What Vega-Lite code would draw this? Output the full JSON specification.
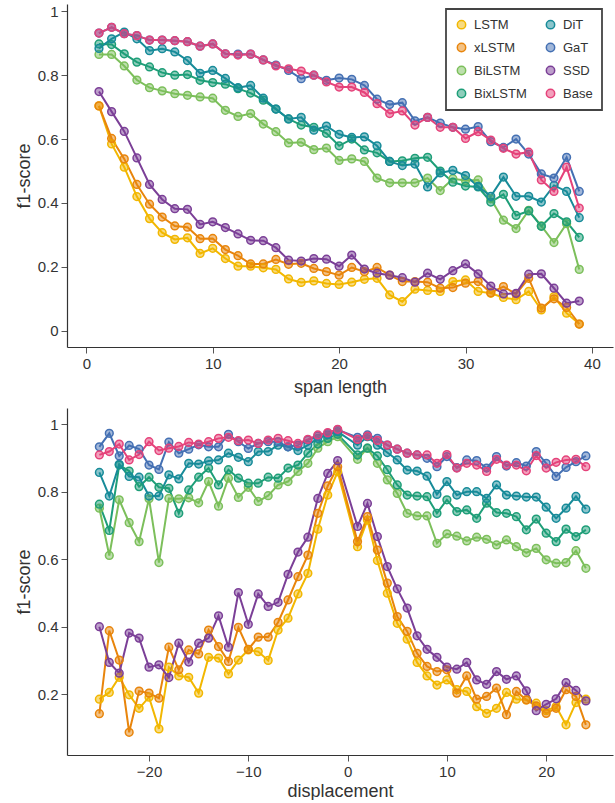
{
"$schema": "https://vega.github.io/schema/vega-lite/v6.json",
"padding": {"left": 15, "top": 4, "right": 2, "bottom": 0},
"config": {
 "font": "Liberation Sans",
 "view": {"stroke": null},
 "axis": {"grid": false, "domainColor": "#333", "domainWidth": 1.2, "tickColor": "#555", "tickWidth": 1, "tickSize": 6, "labelFontSize": 15, "labelColor": "#333", "labelPadding": 3, "titleFontSize": 18, "titleFontWeight": "normal", "titleColor": "#333", "titlePadding": 4},
 "concat": {"spacing": 12}
},
"datasets": {
"span": [
{"m":"LSTM","x":1,"y":0.704},{"m":"LSTM","x":2,"y":0.585},{"m":"LSTM","x":3,"y":0.512},{"m":"LSTM","x":4,"y":0.42},{"m":"LSTM","x":5,"y":0.351},{"m":"LSTM","x":6,"y":0.307},{"m":"LSTM","x":7,"y":0.286},{"m":"LSTM","x":8,"y":0.291},{"m":"LSTM","x":9,"y":0.242},{"m":"LSTM","x":10,"y":0.258},{"m":"LSTM","x":11,"y":0.226},{"m":"LSTM","x":12,"y":0.202},{"m":"LSTM","x":13,"y":0.202},{"m":"LSTM","x":14,"y":0.197},{"m":"LSTM","x":15,"y":0.192},{"m":"LSTM","x":16,"y":0.162},{"m":"LSTM","x":17,"y":0.151},{"m":"LSTM","x":18,"y":0.156},{"m":"LSTM","x":19,"y":0.148},{"m":"LSTM","x":20,"y":0.145},{"m":"LSTM","x":21,"y":0.152},{"m":"LSTM","x":22,"y":0.161},{"m":"LSTM","x":23,"y":0.164},{"m":"LSTM","x":24,"y":0.112},{"m":"LSTM","x":25,"y":0.091},{"m":"LSTM","x":26,"y":0.13},{"m":"LSTM","x":27,"y":0.126},{"m":"LSTM","x":28,"y":0.123},{"m":"LSTM","x":29,"y":0.154},{"m":"LSTM","x":30,"y":0.159},{"m":"LSTM","x":31,"y":0.123},{"m":"LSTM","x":32,"y":0.117},{"m":"LSTM","x":33,"y":0.104},{"m":"LSTM","x":34,"y":0.097},{"m":"LSTM","x":35,"y":0.123},{"m":"LSTM","x":36,"y":0.065},{"m":"LSTM","x":37,"y":0.107},{"m":"LSTM","x":38,"y":0.055},{"m":"LSTM","x":39,"y":0.021},
{"m":"xLSTM","x":1,"y":0.704},{"m":"xLSTM","x":2,"y":0.602},{"m":"xLSTM","x":3,"y":0.538},{"m":"xLSTM","x":4,"y":0.458},{"m":"xLSTM","x":5,"y":0.396},{"m":"xLSTM","x":6,"y":0.356},{"m":"xLSTM","x":7,"y":0.328},{"m":"xLSTM","x":8,"y":0.324},{"m":"xLSTM","x":9,"y":0.288},{"m":"xLSTM","x":10,"y":0.289},{"m":"xLSTM","x":11,"y":0.254},{"m":"xLSTM","x":12,"y":0.235},{"m":"xLSTM","x":13,"y":0.209},{"m":"xLSTM","x":14,"y":0.209},{"m":"xLSTM","x":15,"y":0.223},{"m":"xLSTM","x":16,"y":0.208},{"m":"xLSTM","x":17,"y":0.211},{"m":"xLSTM","x":18,"y":0.195},{"m":"xLSTM","x":19,"y":0.185},{"m":"xLSTM","x":20,"y":0.174},{"m":"xLSTM","x":21,"y":0.198},{"m":"xLSTM","x":22,"y":0.185},{"m":"xLSTM","x":23,"y":0.198},{"m":"xLSTM","x":24,"y":0.174},{"m":"xLSTM","x":25,"y":0.154},{"m":"xLSTM","x":26,"y":0.154},{"m":"xLSTM","x":27,"y":0.152},{"m":"xLSTM","x":28,"y":0.133},{"m":"xLSTM","x":29,"y":0.135},{"m":"xLSTM","x":30,"y":0.149},{"m":"xLSTM","x":31,"y":0.154},{"m":"xLSTM","x":32,"y":0.119},{"m":"xLSTM","x":33,"y":0.138},{"m":"xLSTM","x":34,"y":0.115},{"m":"xLSTM","x":35,"y":0.164},{"m":"xLSTM","x":36,"y":0.071},{"m":"xLSTM","x":37,"y":0.1},{"m":"xLSTM","x":38,"y":0.073},{"m":"xLSTM","x":39,"y":0.021},
{"m":"BiLSTM","x":1,"y":0.865},{"m":"BiLSTM","x":2,"y":0.865},{"m":"BiLSTM","x":3,"y":0.829},{"m":"BiLSTM","x":4,"y":0.785},{"m":"BiLSTM","x":5,"y":0.761},{"m":"BiLSTM","x":6,"y":0.751},{"m":"BiLSTM","x":7,"y":0.742},{"m":"BiLSTM","x":8,"y":0.737},{"m":"BiLSTM","x":9,"y":0.732},{"m":"BiLSTM","x":10,"y":0.728},{"m":"BiLSTM","x":11,"y":0.69},{"m":"BiLSTM","x":12,"y":0.671},{"m":"BiLSTM","x":13,"y":0.68},{"m":"BiLSTM","x":14,"y":0.647},{"m":"BiLSTM","x":15,"y":0.623},{"m":"BiLSTM","x":16,"y":0.588},{"m":"BiLSTM","x":17,"y":0.59},{"m":"BiLSTM","x":18,"y":0.567},{"m":"BiLSTM","x":19,"y":0.572},{"m":"BiLSTM","x":20,"y":0.533},{"m":"BiLSTM","x":21,"y":0.538},{"m":"BiLSTM","x":22,"y":0.53},{"m":"BiLSTM","x":23,"y":0.478},{"m":"BiLSTM","x":24,"y":0.463},{"m":"BiLSTM","x":25,"y":0.463},{"m":"BiLSTM","x":26,"y":0.463},{"m":"BiLSTM","x":27,"y":0.478},{"m":"BiLSTM","x":28,"y":0.439},{"m":"BiLSTM","x":29,"y":0.476},{"m":"BiLSTM","x":30,"y":0.47},{"m":"BiLSTM","x":31,"y":0.472},{"m":"BiLSTM","x":32,"y":0.413},{"m":"BiLSTM","x":33,"y":0.346},{"m":"BiLSTM","x":34,"y":0.32},{"m":"BiLSTM","x":35,"y":0.377},{"m":"BiLSTM","x":36,"y":0.328},{"m":"BiLSTM","x":37,"y":0.276},{"m":"BiLSTM","x":38,"y":0.335},{"m":"BiLSTM","x":39,"y":0.192},
{"m":"BixLSTM","x":1,"y":0.898},{"m":"BixLSTM","x":2,"y":0.896},{"m":"BixLSTM","x":3,"y":0.867},{"m":"BixLSTM","x":4,"y":0.841},{"m":"BixLSTM","x":5,"y":0.826},{"m":"BixLSTM","x":6,"y":0.808},{"m":"BixLSTM","x":7,"y":0.8},{"m":"BixLSTM","x":8,"y":0.802},{"m":"BixLSTM","x":9,"y":0.784},{"m":"BixLSTM","x":10,"y":0.777},{"m":"BixLSTM","x":11,"y":0.772},{"m":"BixLSTM","x":12,"y":0.758},{"m":"BixLSTM","x":13,"y":0.744},{"m":"BixLSTM","x":14,"y":0.722},{"m":"BixLSTM","x":15,"y":0.694},{"m":"BixLSTM","x":16,"y":0.663},{"m":"BixLSTM","x":17,"y":0.644},{"m":"BixLSTM","x":18,"y":0.637},{"m":"BixLSTM","x":19,"y":0.618},{"m":"BixLSTM","x":20,"y":0.579},{"m":"BixLSTM","x":21,"y":0.6},{"m":"BixLSTM","x":22,"y":0.566},{"m":"BixLSTM","x":23,"y":0.557},{"m":"BixLSTM","x":24,"y":0.53},{"m":"BixLSTM","x":25,"y":0.532},{"m":"BixLSTM","x":26,"y":0.54},{"m":"BixLSTM","x":27,"y":0.543},{"m":"BixLSTM","x":28,"y":0.5},{"m":"BixLSTM","x":29,"y":0.465},{"m":"BixLSTM","x":30,"y":0.453},{"m":"BixLSTM","x":31,"y":0.45},{"m":"BixLSTM","x":32,"y":0.403},{"m":"BixLSTM","x":33,"y":0.427},{"m":"BixLSTM","x":34,"y":0.361},{"m":"BixLSTM","x":35,"y":0.375},{"m":"BixLSTM","x":36,"y":0.327},{"m":"BixLSTM","x":37,"y":0.367},{"m":"BixLSTM","x":38,"y":0.341},{"m":"BixLSTM","x":39,"y":0.292},
{"m":"DiT","x":1,"y":0.884},{"m":"DiT","x":2,"y":0.914},{"m":"DiT","x":3,"y":0.935},{"m":"DiT","x":4,"y":0.914},{"m":"DiT","x":5,"y":0.877},{"m":"DiT","x":6,"y":0.883},{"m":"DiT","x":7,"y":0.873},{"m":"DiT","x":8,"y":0.846},{"m":"DiT","x":9,"y":0.806},{"m":"DiT","x":10,"y":0.815},{"m":"DiT","x":11,"y":0.79},{"m":"DiT","x":12,"y":0.761},{"m":"DiT","x":13,"y":0.768},{"m":"DiT","x":14,"y":0.728},{"m":"DiT","x":15,"y":0.694},{"m":"DiT","x":16,"y":0.663},{"m":"DiT","x":17,"y":0.668},{"m":"DiT","x":18,"y":0.628},{"m":"DiT","x":19,"y":0.641},{"m":"DiT","x":20,"y":0.615},{"m":"DiT","x":21,"y":0.605},{"m":"DiT","x":22,"y":0.607},{"m":"DiT","x":23,"y":0.579},{"m":"DiT","x":24,"y":0.53},{"m":"DiT","x":25,"y":0.517},{"m":"DiT","x":26,"y":0.522},{"m":"DiT","x":27,"y":0.45},{"m":"DiT","x":28,"y":0.494},{"m":"DiT","x":29,"y":0.502},{"m":"DiT","x":30,"y":0.486},{"m":"DiT","x":31,"y":0.452},{"m":"DiT","x":32,"y":0.421},{"m":"DiT","x":33,"y":0.481},{"m":"DiT","x":34,"y":0.421},{"m":"DiT","x":35,"y":0.421},{"m":"DiT","x":36,"y":0.403},{"m":"DiT","x":37,"y":0.455},{"m":"DiT","x":38,"y":0.436},{"m":"DiT","x":39,"y":0.354},
{"m":"GaT","x":1,"y":0.932},{"m":"GaT","x":2,"y":0.95},{"m":"GaT","x":3,"y":0.93},{"m":"GaT","x":4,"y":0.924},{"m":"GaT","x":5,"y":0.91},{"m":"GaT","x":6,"y":0.91},{"m":"GaT","x":7,"y":0.908},{"m":"GaT","x":8,"y":0.905},{"m":"GaT","x":9,"y":0.891},{"m":"GaT","x":10,"y":0.898},{"m":"GaT","x":11,"y":0.867},{"m":"GaT","x":12,"y":0.866},{"m":"GaT","x":13,"y":0.866},{"m":"GaT","x":14,"y":0.848},{"m":"GaT","x":15,"y":0.832},{"m":"GaT","x":16,"y":0.815},{"m":"GaT","x":17,"y":0.789},{"m":"GaT","x":18,"y":0.8},{"m":"GaT","x":19,"y":0.784},{"m":"GaT","x":20,"y":0.791},{"m":"GaT","x":21,"y":0.787},{"m":"GaT","x":22,"y":0.768},{"m":"GaT","x":23,"y":0.725},{"m":"GaT","x":24,"y":0.708},{"m":"GaT","x":25,"y":0.714},{"m":"GaT","x":26,"y":0.657},{"m":"GaT","x":27,"y":0.668},{"m":"GaT","x":28,"y":0.65},{"m":"GaT","x":29,"y":0.637},{"m":"GaT","x":30,"y":0.631},{"m":"GaT","x":31,"y":0.639},{"m":"GaT","x":32,"y":0.592},{"m":"GaT","x":33,"y":0.574},{"m":"GaT","x":34,"y":0.6},{"m":"GaT","x":35,"y":0.553},{"m":"GaT","x":36,"y":0.491},{"m":"GaT","x":37,"y":0.478},{"m":"GaT","x":38,"y":0.543},{"m":"GaT","x":39,"y":0.436},
{"m":"SSD","x":1,"y":0.749},{"m":"SSD","x":2,"y":0.686},{"m":"SSD","x":3,"y":0.624},{"m":"SSD","x":4,"y":0.541},{"m":"SSD","x":5,"y":0.458},{"m":"SSD","x":6,"y":0.411},{"m":"SSD","x":7,"y":0.382},{"m":"SSD","x":8,"y":0.38},{"m":"SSD","x":9,"y":0.333},{"m":"SSD","x":10,"y":0.341},{"m":"SSD","x":11,"y":0.323},{"m":"SSD","x":12,"y":0.303},{"m":"SSD","x":13,"y":0.283},{"m":"SSD","x":14,"y":0.282},{"m":"SSD","x":15,"y":0.26},{"m":"SSD","x":16,"y":0.221},{"m":"SSD","x":17,"y":0.218},{"m":"SSD","x":18,"y":0.226},{"m":"SSD","x":19,"y":0.224},{"m":"SSD","x":20,"y":0.202},{"m":"SSD","x":21,"y":0.237},{"m":"SSD","x":22,"y":0.193},{"m":"SSD","x":23,"y":0.18},{"m":"SSD","x":24,"y":0.174},{"m":"SSD","x":25,"y":0.166},{"m":"SSD","x":26,"y":0.152},{"m":"SSD","x":27,"y":0.18},{"m":"SSD","x":28,"y":0.161},{"m":"SSD","x":29,"y":0.188},{"m":"SSD","x":30,"y":0.209},{"m":"SSD","x":31,"y":0.178},{"m":"SSD","x":32,"y":0.14},{"m":"SSD","x":33,"y":0.115},{"m":"SSD","x":34,"y":0.117},{"m":"SSD","x":35,"y":0.177},{"m":"SSD","x":36,"y":0.178},{"m":"SSD","x":37,"y":0.133},{"m":"SSD","x":38,"y":0.086},{"m":"SSD","x":39,"y":0.093},
{"m":"Base","x":1,"y":0.932},{"m":"Base","x":2,"y":0.95},{"m":"Base","x":3,"y":0.93},{"m":"Base","x":4,"y":0.924},{"m":"Base","x":5,"y":0.91},{"m":"Base","x":6,"y":0.91},{"m":"Base","x":7,"y":0.908},{"m":"Base","x":8,"y":0.905},{"m":"Base","x":9,"y":0.891},{"m":"Base","x":10,"y":0.898},{"m":"Base","x":11,"y":0.867},{"m":"Base","x":12,"y":0.863},{"m":"Base","x":13,"y":0.866},{"m":"Base","x":14,"y":0.848},{"m":"Base","x":15,"y":0.829},{"m":"Base","x":16,"y":0.82},{"m":"Base","x":17,"y":0.813},{"m":"Base","x":18,"y":0.8},{"m":"Base","x":19,"y":0.779},{"m":"Base","x":20,"y":0.763},{"m":"Base","x":21,"y":0.763},{"m":"Base","x":22,"y":0.746},{"m":"Base","x":23,"y":0.711},{"m":"Base","x":24,"y":0.68},{"m":"Base","x":25,"y":0.688},{"m":"Base","x":26,"y":0.644},{"m":"Base","x":27,"y":0.668},{"m":"Base","x":28,"y":0.637},{"m":"Base","x":29,"y":0.637},{"m":"Base","x":30,"y":0.602},{"m":"Base","x":31,"y":0.623},{"m":"Base","x":32,"y":0.597},{"m":"Base","x":33,"y":0.571},{"m":"Base","x":34,"y":0.553},{"m":"Base","x":35,"y":0.559},{"m":"Base","x":36,"y":0.472},{"m":"Base","x":37,"y":0.436},{"m":"Base","x":38,"y":0.512},{"m":"Base","x":39,"y":0.384}
],
"disp": [
{"m":"LSTM","x":-25,"y":0.185},{"m":"LSTM","x":-24,"y":0.205},{"m":"LSTM","x":-23,"y":0.25},{"m":"LSTM","x":-22,"y":0.198},{"m":"LSTM","x":-21,"y":0.158},{"m":"LSTM","x":-20,"y":0.191},{"m":"LSTM","x":-19,"y":0.097},{"m":"LSTM","x":-18,"y":0.28},{"m":"LSTM","x":-17,"y":0.254},{"m":"LSTM","x":-16,"y":0.25},{"m":"LSTM","x":-15,"y":0.203},{"m":"LSTM","x":-14,"y":0.309},{"m":"LSTM","x":-13,"y":0.307},{"m":"LSTM","x":-12,"y":0.26},{"m":"LSTM","x":-11,"y":0.301},{"m":"LSTM","x":-10,"y":0.331},{"m":"LSTM","x":-9,"y":0.326},{"m":"LSTM","x":-8,"y":0.3},{"m":"LSTM","x":-7,"y":0.39},{"m":"LSTM","x":-6,"y":0.425},{"m":"LSTM","x":-5,"y":0.497},{"m":"LSTM","x":-4,"y":0.558},{"m":"LSTM","x":-3,"y":0.689},{"m":"LSTM","x":-2,"y":0.79},{"m":"LSTM","x":-1,"y":0.859},{"m":"LSTM","x":1,"y":0.637},{"m":"LSTM","x":2,"y":0.716},{"m":"LSTM","x":3,"y":0.596},{"m":"LSTM","x":4,"y":0.499},{"m":"LSTM","x":5,"y":0.41},{"m":"LSTM","x":6,"y":0.363},{"m":"LSTM","x":7,"y":0.294},{"m":"LSTM","x":8,"y":0.254},{"m":"LSTM","x":9,"y":0.227},{"m":"LSTM","x":10,"y":0.242},{"m":"LSTM","x":11,"y":0.213},{"m":"LSTM","x":12,"y":0.208},{"m":"LSTM","x":13,"y":0.163},{"m":"LSTM","x":14,"y":0.143},{"m":"LSTM","x":15,"y":0.158},{"m":"LSTM","x":16,"y":0.205},{"m":"LSTM","x":17,"y":0.185},{"m":"LSTM","x":18,"y":0.183},{"m":"LSTM","x":19,"y":0.173},{"m":"LSTM","x":20,"y":0.151},{"m":"LSTM","x":21,"y":0.163},{"m":"LSTM","x":22,"y":0.109},{"m":"LSTM","x":23,"y":0.175},{"m":"LSTM","x":24,"y":0.185},
{"m":"xLSTM","x":-25,"y":0.142},{"m":"xLSTM","x":-24,"y":0.388},{"m":"xLSTM","x":-23,"y":0.301},{"m":"xLSTM","x":-22,"y":0.087},{"m":"xLSTM","x":-21,"y":0.209},{"m":"xLSTM","x":-20,"y":0.203},{"m":"xLSTM","x":-19,"y":0.188},{"m":"xLSTM","x":-18,"y":0.339},{"m":"xLSTM","x":-17,"y":0.272},{"m":"xLSTM","x":-16,"y":0.331},{"m":"xLSTM","x":-15,"y":0.319},{"m":"xLSTM","x":-14,"y":0.39},{"m":"xLSTM","x":-13,"y":0.341},{"m":"xLSTM","x":-12,"y":0.297},{"m":"xLSTM","x":-11,"y":0.398},{"m":"xLSTM","x":-10,"y":0.333},{"m":"xLSTM","x":-9,"y":0.369},{"m":"xLSTM","x":-8,"y":0.369},{"m":"xLSTM","x":-7,"y":0.413},{"m":"xLSTM","x":-6,"y":0.479},{"m":"xLSTM","x":-5,"y":0.548},{"m":"xLSTM","x":-4,"y":0.612},{"m":"xLSTM","x":-3,"y":0.736},{"m":"xLSTM","x":-2,"y":0.817},{"m":"xLSTM","x":-1,"y":0.874},{"m":"xLSTM","x":1,"y":0.652},{"m":"xLSTM","x":2,"y":0.726},{"m":"xLSTM","x":3,"y":0.627},{"m":"xLSTM","x":4,"y":0.529},{"m":"xLSTM","x":5,"y":0.43},{"m":"xLSTM","x":6,"y":0.386},{"m":"xLSTM","x":7,"y":0.321},{"m":"xLSTM","x":8,"y":0.282},{"m":"xLSTM","x":9,"y":0.267},{"m":"xLSTM","x":10,"y":0.272},{"m":"xLSTM","x":11,"y":0.203},{"m":"xLSTM","x":12,"y":0.254},{"m":"xLSTM","x":13,"y":0.185},{"m":"xLSTM","x":14,"y":0.193},{"m":"xLSTM","x":15,"y":0.218},{"m":"xLSTM","x":16,"y":0.139},{"m":"xLSTM","x":17,"y":0.208},{"m":"xLSTM","x":18,"y":0.183},{"m":"xLSTM","x":19,"y":0.165},{"m":"xLSTM","x":20,"y":0.143},{"m":"xLSTM","x":21,"y":0.158},{"m":"xLSTM","x":22,"y":0.213},{"m":"xLSTM","x":23,"y":0.193},{"m":"xLSTM","x":24,"y":0.109},
{"m":"BiLSTM","x":-25,"y":0.751},{"m":"BiLSTM","x":-24,"y":0.611},{"m":"BiLSTM","x":-23,"y":0.776},{"m":"BiLSTM","x":-22,"y":0.708},{"m":"BiLSTM","x":-21,"y":0.652},{"m":"BiLSTM","x":-20,"y":0.779},{"m":"BiLSTM","x":-19,"y":0.59},{"m":"BiLSTM","x":-18,"y":0.78},{"m":"BiLSTM","x":-17,"y":0.779},{"m":"BiLSTM","x":-16,"y":0.782},{"m":"BiLSTM","x":-15,"y":0.767},{"m":"BiLSTM","x":-14,"y":0.83},{"m":"BiLSTM","x":-13,"y":0.757},{"m":"BiLSTM","x":-12,"y":0.84},{"m":"BiLSTM","x":-11,"y":0.783},{"m":"BiLSTM","x":-10,"y":0.813},{"m":"BiLSTM","x":-9,"y":0.771},{"m":"BiLSTM","x":-8,"y":0.788},{"m":"BiLSTM","x":-7,"y":0.82},{"m":"BiLSTM","x":-6,"y":0.83},{"m":"BiLSTM","x":-5,"y":0.86},{"m":"BiLSTM","x":-4,"y":0.884},{"m":"BiLSTM","x":-3,"y":0.929},{"m":"BiLSTM","x":-2,"y":0.948},{"m":"BiLSTM","x":-1,"y":0.963},{"m":"BiLSTM","x":1,"y":0.896},{"m":"BiLSTM","x":2,"y":0.929},{"m":"BiLSTM","x":3,"y":0.884},{"m":"BiLSTM","x":4,"y":0.835},{"m":"BiLSTM","x":5,"y":0.795},{"m":"BiLSTM","x":6,"y":0.736},{"m":"BiLSTM","x":7,"y":0.728},{"m":"BiLSTM","x":8,"y":0.728},{"m":"BiLSTM","x":9,"y":0.647},{"m":"BiLSTM","x":10,"y":0.675},{"m":"BiLSTM","x":11,"y":0.668},{"m":"BiLSTM","x":12,"y":0.654},{"m":"BiLSTM","x":13,"y":0.665},{"m":"BiLSTM","x":14,"y":0.659},{"m":"BiLSTM","x":15,"y":0.642},{"m":"BiLSTM","x":16,"y":0.657},{"m":"BiLSTM","x":17,"y":0.637},{"m":"BiLSTM","x":18,"y":0.619},{"m":"BiLSTM","x":19,"y":0.632},{"m":"BiLSTM","x":20,"y":0.598},{"m":"BiLSTM","x":21,"y":0.588},{"m":"BiLSTM","x":22,"y":0.59},{"m":"BiLSTM","x":23,"y":0.625},{"m":"BiLSTM","x":24,"y":0.573},
{"m":"BixLSTM","x":-25,"y":0.763},{"m":"BixLSTM","x":-24,"y":0.685},{"m":"BixLSTM","x":-23,"y":0.879},{"m":"BixLSTM","x":-22,"y":0.861},{"m":"BixLSTM","x":-21,"y":0.815},{"m":"BixLSTM","x":-20,"y":0.843},{"m":"BixLSTM","x":-19,"y":0.813},{"m":"BixLSTM","x":-18,"y":0.81},{"m":"BixLSTM","x":-17,"y":0.736},{"m":"BixLSTM","x":-16,"y":0.805},{"m":"BixLSTM","x":-15,"y":0.843},{"m":"BixLSTM","x":-14,"y":0.87},{"m":"BixLSTM","x":-13,"y":0.82},{"m":"BixLSTM","x":-12,"y":0.865},{"m":"BixLSTM","x":-11,"y":0.84},{"m":"BixLSTM","x":-10,"y":0.825},{"m":"BixLSTM","x":-9,"y":0.825},{"m":"BixLSTM","x":-8,"y":0.843},{"m":"BixLSTM","x":-7,"y":0.84},{"m":"BixLSTM","x":-6,"y":0.87},{"m":"BixLSTM","x":-5,"y":0.879},{"m":"BixLSTM","x":-4,"y":0.914},{"m":"BixLSTM","x":-3,"y":0.941},{"m":"BixLSTM","x":-2,"y":0.958},{"m":"BixLSTM","x":-1,"y":0.97},{"m":"BixLSTM","x":1,"y":0.909},{"m":"BixLSTM","x":2,"y":0.929},{"m":"BixLSTM","x":3,"y":0.906},{"m":"BixLSTM","x":4,"y":0.865},{"m":"BixLSTM","x":5,"y":0.82},{"m":"BixLSTM","x":6,"y":0.79},{"m":"BixLSTM","x":7,"y":0.787},{"m":"BixLSTM","x":8,"y":0.785},{"m":"BixLSTM","x":9,"y":0.736},{"m":"BixLSTM","x":10,"y":0.776},{"m":"BixLSTM","x":11,"y":0.741},{"m":"BixLSTM","x":12,"y":0.746},{"m":"BixLSTM","x":13,"y":0.721},{"m":"BixLSTM","x":14,"y":0.766},{"m":"BixLSTM","x":15,"y":0.738},{"m":"BixLSTM","x":16,"y":0.736},{"m":"BixLSTM","x":17,"y":0.726},{"m":"BixLSTM","x":18,"y":0.687},{"m":"BixLSTM","x":19,"y":0.719},{"m":"BixLSTM","x":20,"y":0.677},{"m":"BixLSTM","x":21,"y":0.652},{"m":"BixLSTM","x":22,"y":0.689},{"m":"BixLSTM","x":23,"y":0.667},{"m":"BixLSTM","x":24,"y":0.687},
{"m":"DiT","x":-25,"y":0.857},{"m":"DiT","x":-24,"y":0.787},{"m":"DiT","x":-23,"y":0.881},{"m":"DiT","x":-22,"y":0.845},{"m":"DiT","x":-21,"y":0.843},{"m":"DiT","x":-20,"y":0.787},{"m":"DiT","x":-19,"y":0.787},{"m":"DiT","x":-18,"y":0.85},{"m":"DiT","x":-17,"y":0.838},{"m":"DiT","x":-16,"y":0.884},{"m":"DiT","x":-15,"y":0.882},{"m":"DiT","x":-14,"y":0.891},{"m":"DiT","x":-13,"y":0.894},{"m":"DiT","x":-12,"y":0.914},{"m":"DiT","x":-11,"y":0.902},{"m":"DiT","x":-10,"y":0.889},{"m":"DiT","x":-9,"y":0.919},{"m":"DiT","x":-8,"y":0.919},{"m":"DiT","x":-7,"y":0.938},{"m":"DiT","x":-6,"y":0.933},{"m":"DiT","x":-5,"y":0.922},{"m":"DiT","x":-4,"y":0.938},{"m":"DiT","x":-3,"y":0.958},{"m":"DiT","x":-2,"y":0.968},{"m":"DiT","x":-1,"y":0.978},{"m":"DiT","x":1,"y":0.938},{"m":"DiT","x":2,"y":0.963},{"m":"DiT","x":3,"y":0.938},{"m":"DiT","x":4,"y":0.916},{"m":"DiT","x":5,"y":0.894},{"m":"DiT","x":6,"y":0.864},{"m":"DiT","x":7,"y":0.861},{"m":"DiT","x":8,"y":0.846},{"m":"DiT","x":9,"y":0.792},{"m":"DiT","x":10,"y":0.83},{"m":"DiT","x":11,"y":0.79},{"m":"DiT","x":12,"y":0.8},{"m":"DiT","x":13,"y":0.8},{"m":"DiT","x":14,"y":0.78},{"m":"DiT","x":15,"y":0.82},{"m":"DiT","x":16,"y":0.79},{"m":"DiT","x":17,"y":0.787},{"m":"DiT","x":18,"y":0.784},{"m":"DiT","x":19,"y":0.784},{"m":"DiT","x":20,"y":0.754},{"m":"DiT","x":21,"y":0.721},{"m":"DiT","x":22,"y":0.751},{"m":"DiT","x":23,"y":0.786},{"m":"DiT","x":24,"y":0.748},
{"m":"GaT","x":-25,"y":0.933},{"m":"GaT","x":-24,"y":0.973},{"m":"GaT","x":-23,"y":0.906},{"m":"GaT","x":-22,"y":0.937},{"m":"GaT","x":-21,"y":0.926},{"m":"GaT","x":-20,"y":0.879},{"m":"GaT","x":-19,"y":0.866},{"m":"GaT","x":-18,"y":0.947},{"m":"GaT","x":-17,"y":0.914},{"m":"GaT","x":-16,"y":0.926},{"m":"GaT","x":-15,"y":0.939},{"m":"GaT","x":-14,"y":0.933},{"m":"GaT","x":-13,"y":0.933},{"m":"GaT","x":-12,"y":0.97},{"m":"GaT","x":-11,"y":0.948},{"m":"GaT","x":-10,"y":0.928},{"m":"GaT","x":-9,"y":0.943},{"m":"GaT","x":-8,"y":0.948},{"m":"GaT","x":-7,"y":0.948},{"m":"GaT","x":-6,"y":0.933},{"m":"GaT","x":-5,"y":0.938},{"m":"GaT","x":-4,"y":0.953},{"m":"GaT","x":-3,"y":0.965},{"m":"GaT","x":-2,"y":0.973},{"m":"GaT","x":-1,"y":0.983},{"m":"GaT","x":1,"y":0.961},{"m":"GaT","x":2,"y":0.968},{"m":"GaT","x":3,"y":0.958},{"m":"GaT","x":4,"y":0.938},{"m":"GaT","x":5,"y":0.926},{"m":"GaT","x":6,"y":0.914},{"m":"GaT","x":7,"y":0.909},{"m":"GaT","x":8,"y":0.899},{"m":"GaT","x":9,"y":0.874},{"m":"GaT","x":10,"y":0.904},{"m":"GaT","x":11,"y":0.871},{"m":"GaT","x":12,"y":0.894},{"m":"GaT","x":13,"y":0.892},{"m":"GaT","x":14,"y":0.87},{"m":"GaT","x":15,"y":0.904},{"m":"GaT","x":16,"y":0.876},{"m":"GaT","x":17,"y":0.886},{"m":"GaT","x":18,"y":0.876},{"m":"GaT","x":19,"y":0.919},{"m":"GaT","x":20,"y":0.884},{"m":"GaT","x":21,"y":0.845},{"m":"GaT","x":22,"y":0.872},{"m":"GaT","x":23,"y":0.889},{"m":"GaT","x":24,"y":0.906},
{"m":"SSD","x":-25,"y":0.4},{"m":"SSD","x":-24,"y":0.294},{"m":"SSD","x":-23,"y":0.262},{"m":"SSD","x":-22,"y":0.381},{"m":"SSD","x":-21,"y":0.366},{"m":"SSD","x":-20,"y":0.28},{"m":"SSD","x":-19,"y":0.287},{"m":"SSD","x":-18,"y":0.249},{"m":"SSD","x":-17,"y":0.351},{"m":"SSD","x":-16,"y":0.295},{"m":"SSD","x":-15,"y":0.351},{"m":"SSD","x":-14,"y":0.366},{"m":"SSD","x":-13,"y":0.432},{"m":"SSD","x":-12,"y":0.339},{"m":"SSD","x":-11,"y":0.501},{"m":"SSD","x":-10,"y":0.407},{"m":"SSD","x":-9,"y":0.497},{"m":"SSD","x":-8,"y":0.46},{"m":"SSD","x":-7,"y":0.472},{"m":"SSD","x":-6,"y":0.555},{"m":"SSD","x":-5,"y":0.621},{"m":"SSD","x":-4,"y":0.665},{"m":"SSD","x":-3,"y":0.78},{"m":"SSD","x":-2,"y":0.854},{"m":"SSD","x":-1,"y":0.892},{"m":"SSD","x":1,"y":0.697},{"m":"SSD","x":2,"y":0.765},{"m":"SSD","x":3,"y":0.667},{"m":"SSD","x":4,"y":0.578},{"m":"SSD","x":5,"y":0.512},{"m":"SSD","x":6,"y":0.455},{"m":"SSD","x":7,"y":0.373},{"m":"SSD","x":8,"y":0.333},{"m":"SSD","x":9,"y":0.309},{"m":"SSD","x":10,"y":0.28},{"m":"SSD","x":11,"y":0.274},{"m":"SSD","x":12,"y":0.294},{"m":"SSD","x":13,"y":0.242},{"m":"SSD","x":14,"y":0.229},{"m":"SSD","x":15,"y":0.267},{"m":"SSD","x":16,"y":0.244},{"m":"SSD","x":17,"y":0.254},{"m":"SSD","x":18,"y":0.21},{"m":"SSD","x":19,"y":0.151},{"m":"SSD","x":20,"y":0.17},{"m":"SSD","x":21,"y":0.186},{"m":"SSD","x":22,"y":0.234},{"m":"SSD","x":23,"y":0.211},{"m":"SSD","x":24,"y":0.18},
{"m":"Base","x":-25,"y":0.909},{"m":"Base","x":-24,"y":0.919},{"m":"Base","x":-23,"y":0.941},{"m":"Base","x":-22,"y":0.894},{"m":"Base","x":-21,"y":0.91},{"m":"Base","x":-20,"y":0.948},{"m":"Base","x":-19,"y":0.922},{"m":"Base","x":-18,"y":0.929},{"m":"Base","x":-17,"y":0.934},{"m":"Base","x":-16,"y":0.946},{"m":"Base","x":-15,"y":0.941},{"m":"Base","x":-14,"y":0.948},{"m":"Base","x":-13,"y":0.958},{"m":"Base","x":-12,"y":0.961},{"m":"Base","x":-11,"y":0.951},{"m":"Base","x":-10,"y":0.953},{"m":"Base","x":-9,"y":0.943},{"m":"Base","x":-8,"y":0.953},{"m":"Base","x":-7,"y":0.958},{"m":"Base","x":-6,"y":0.951},{"m":"Base","x":-5,"y":0.943},{"m":"Base","x":-4,"y":0.955},{"m":"Base","x":-3,"y":0.968},{"m":"Base","x":-2,"y":0.975},{"m":"Base","x":-1,"y":0.985},{"m":"Base","x":1,"y":0.955},{"m":"Base","x":2,"y":0.965},{"m":"Base","x":3,"y":0.952},{"m":"Base","x":4,"y":0.938},{"m":"Base","x":5,"y":0.926},{"m":"Base","x":6,"y":0.914},{"m":"Base","x":7,"y":0.909},{"m":"Base","x":8,"y":0.909},{"m":"Base","x":9,"y":0.884},{"m":"Base","x":10,"y":0.91},{"m":"Base","x":11,"y":0.87},{"m":"Base","x":12,"y":0.884},{"m":"Base","x":13,"y":0.879},{"m":"Base","x":14,"y":0.86},{"m":"Base","x":15,"y":0.896},{"m":"Base","x":16,"y":0.879},{"m":"Base","x":17,"y":0.879},{"m":"Base","x":18,"y":0.862},{"m":"Base","x":19,"y":0.907},{"m":"Base","x":20,"y":0.87},{"m":"Base","x":21,"y":0.887},{"m":"Base","x":22,"y":0.894},{"m":"Base","x":23,"y":0.896},{"m":"Base","x":24,"y":0.874}
]
},
"vconcat": [
{
 "width": 546, "height": 343,
 "data": {"name": "span"},
 "encoding": {
  "x": {"field": "x", "type": "quantitative", "scale": {"domain": [-1.53, 41.67], "nice": false, "zero": false}, "axis": {"values": [0,10,20,30,40], "title": "span length", "titlePadding": 7}},
  "y": {"field": "y", "type": "quantitative", "scale": {"domain": [-0.051, 1.023], "nice": false, "zero": false}, "axis": {"values": [0,0.2,0.4,0.6,0.8,1], "format": "~g", "title": "f1-score"}},
  "stroke": {"field": "m", "type": "nominal",
   "scale": {"domain": ["LSTM","xLSTM","BiLSTM","BixLSTM","DiT","GaT","SSD","Base"], "range": ["#F2B701","#E8850C","#7CBF5B","#1E9E78","#178B99","#4470B3","#7B3F97","#E5427A"]},
   "legend": {"title": null, "orient": "none", "legendX": 379, "legendY": 5, "columns": 2, "symbolType": "circle", "symbolSize": 70, "symbolStrokeWidth": 1.5, "labelFontSize": 13, "labelColor": "#333", "labelOffset": 6, "padding": 9, "rowPadding": 8, "columnPadding": 16, "strokeColor": "#444", "fillColor": "white",
     "encode": {"symbols": {"update": {"fillOpacity": {"value": 0.5}, "strokeWidth": {"value": 1.5}}}, "legend": {"update": {"strokeWidth": {"value": 1.8}}}}}}
 },
 "layer": [
  {"mark": {"type": "line", "strokeWidth": 2}},
  {"mark": {"type": "circle", "size": 60, "opacity": 1, "fillOpacity": 0.5, "strokeWidth": 1.5},
   "encoding": {"fill": {"field": "m", "type": "nominal",
    "scale": {"domain": ["LSTM","xLSTM","BiLSTM","BixLSTM","DiT","GaT","SSD","Base"], "range": ["#F2B701","#E8850C","#7CBF5B","#1E9E78","#178B99","#4470B3","#7B3F97","#E5427A"]},
    "legend": {"title": null, "orient": "none", "legendX": 379, "legendY": 5, "columns": 2, "symbolType": "circle", "symbolSize": 70, "symbolStrokeWidth": 1.5, "labelFontSize": 13, "labelColor": "#333", "labelOffset": 6, "padding": 9, "rowPadding": 8, "columnPadding": 16, "strokeColor": "#444", "fillColor": "white",
     "encode": {"symbols": {"update": {"fillOpacity": {"value": 0.5}, "strokeWidth": {"value": 1.5}}}, "legend": {"update": {"strokeWidth": {"value": 1.8}}}}}}}}
 ]
},
{
 "width": 546, "height": 347,
 "data": {"name": "disp"},
 "encoding": {
  "x": {"field": "x", "type": "quantitative", "scale": {"domain": [-28.26, 26.73], "nice": false, "zero": false}, "axis": {"values": [-20,-10,0,10,20], "title": "displacement", "titlePadding": 3}},
  "y": {"field": "y", "type": "quantitative", "scale": {"domain": [0.0196, 1.048], "nice": false, "zero": false}, "axis": {"values": [0.2,0.4,0.6,0.8,1], "format": "~g", "title": "f1-score"}},
  "stroke": {"field": "m", "type": "nominal",
   "scale": {"domain": ["LSTM","xLSTM","BiLSTM","BixLSTM","DiT","GaT","SSD","Base"], "range": ["#F2B701","#E8850C","#7CBF5B","#1E9E78","#178B99","#4470B3","#7B3F97","#E5427A"]},
   "legend": null}
 },
 "layer": [
  {"mark": {"type": "line", "strokeWidth": 2}},
  {"mark": {"type": "circle", "size": 60, "opacity": 1, "fillOpacity": 0.5, "strokeWidth": 1.5},
   "encoding": {"fill": {"field": "m", "type": "nominal",
    "scale": {"domain": ["LSTM","xLSTM","BiLSTM","BixLSTM","DiT","GaT","SSD","Base"], "range": ["#F2B701","#E8850C","#7CBF5B","#1E9E78","#178B99","#4470B3","#7B3F97","#E5427A"]},
    "legend": null}}}
 ]
}
],
"resolve": {"scale": {"stroke": "independent", "fill": "independent"}, "legend": {"stroke": "independent", "fill": "independent"}}
}
